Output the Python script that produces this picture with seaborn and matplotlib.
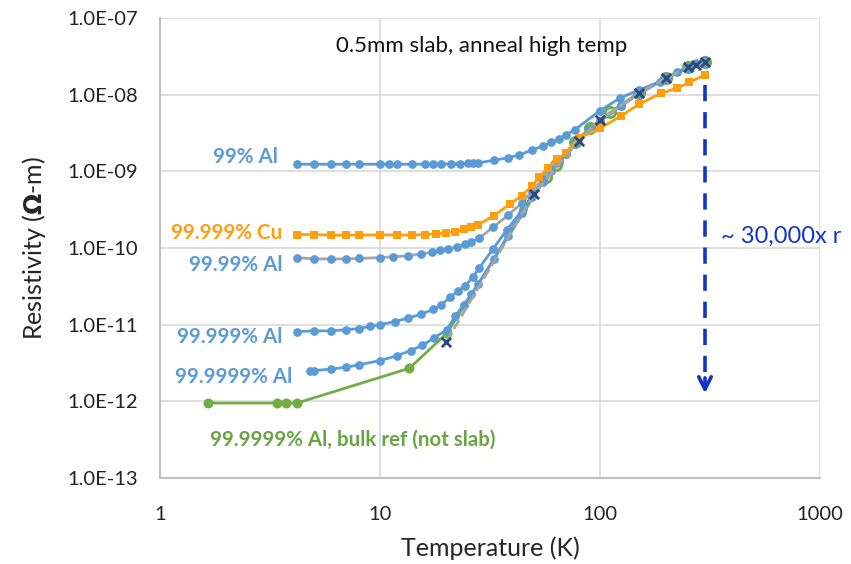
import matplotlib
matplotlib.use("Agg")
import matplotlib.pyplot as plt
import matplotlib.ticker as mticker
import seaborn as sns

# 99% Al
al99_T = [4.2, 5, 6, 7, 8, 10, 11, 12, 14, 16, 17.5, 19, 21, 23, 25, 26.5, 28, 33, 38, 43,
          49, 55, 60, 65, 70, 77, 100, 123, 150, 187, 225, 250, 274, 300]
al99_r = [1.24e-9, 1.24e-9, 1.24e-9, 1.24e-9, 1.24e-9, 1.24e-9, 1.24e-9, 1.24e-9, 1.24e-9, 1.24e-9,
          1.25e-9, 1.25e-9, 1.25e-9, 1.26e-9, 1.27e-9, 1.28e-9, 1.29e-9, 1.40e-9, 1.50e-9, 1.64e-9,
          1.90e-9, 2.14e-9, 2.40e-9, 2.66e-9, 3.0e-9, 3.5e-9, 6.2e-9, 9.0e-9, 1.15e-8, 1.48e-8,
          2.0e-8, 2.3e-8, 2.57e-8, 2.8e-8]

# 99.999% Cu
cu_T = [4.2, 5, 6, 7, 8, 10, 12, 14, 16, 18, 20, 22, 24, 26, 28, 33, 39, 44, 49, 53, 58, 64, 70,
        80, 100, 125, 150, 190, 225, 255, 300]
cu_r = [1.50e-10, 1.50e-10, 1.47e-10, 1.47e-10, 1.48e-10, 1.48e-10, 1.48e-10, 1.48e-10, 1.50e-10,
        1.53e-10, 1.58e-10, 1.63e-10, 1.75e-10, 1.88e-10, 2.02e-10, 2.65e-10, 3.75e-10, 4.8e-10,
        6.4e-10, 8.5e-10, 1.1e-9, 1.44e-9, 1.72e-9, 2.7e-9, 3.65e-9, 5.3e-9, 7.5e-9, 1.05e-8,
        1.22e-8, 1.45e-8, 1.82e-8]

# 99.99% Al
al9999_T = [4.2, 5, 6, 7, 8, 10, 11.5, 13.4, 15.4, 17.2, 18.7, 20.4, 22.3, 24.4, 26, 28.2, 32.7,
            38.3, 44, 49, 55, 60, 65, 70, 77, 90, 100, 125, 150, 200, 250, 300]
al9999_r = [7.5e-11, 7.2e-11, 7.2e-11, 7.2e-11, 7.3e-11, 7.5e-11, 7.7e-11, 7.9e-11, 8.4e-11, 8.8e-11,
            9.3e-11, 9.7e-11, 1.04e-10, 1.12e-10, 1.21e-10, 1.34e-10, 1.87e-10, 2.7e-10, 3.84e-10,
            5.5e-10, 8.0e-10, 1.08e-9, 1.4e-9, 1.75e-9, 2.4e-9, 3.6e-9, 4.6e-9, 7.3e-9, 1.05e-8,
            1.65e-8, 2.25e-8, 2.7e-8]

# 99.999% Al
al99999_T = [4.2, 5, 6, 7, 8, 9, 10, 11.7, 13.4, 15.4, 17.5, 19, 20.8, 22.7, 24.4, 26.5, 28.2, 32.7,
             37.6, 44.6, 49, 55, 60, 65, 70, 77, 90, 100, 125, 150, 200, 250, 300]
al99999_r = [8.1e-12, 8.3e-12, 8.3e-12, 8.6e-12, 8.9e-12, 9.5e-12, 1.0e-11, 1.1e-11, 1.22e-11,
             1.37e-11, 1.59e-11, 1.81e-11, 2.28e-11, 2.76e-11, 3.2e-11, 4.24e-11, 5.45e-11, 9.8e-11,
             1.7e-10, 3.2e-10, 4.8e-10, 7.5e-10, 1.03e-9, 1.35e-9, 1.7e-9, 2.35e-9, 3.55e-9, 4.55e-9,
             7.2e-9, 1.04e-8, 1.64e-8, 2.23e-8, 2.68e-8]

# 99.9999% Al
al999999_T = [4.8, 5, 6, 7, 8, 10, 12, 13.8, 15.6, 17.6, 20.1, 22, 24, 26, 28, 33, 38, 44, 49,
              55, 60, 65, 70, 77, 90, 100, 125, 150, 200, 250, 300]
al999999_r = [2.52e-12, 2.52e-12, 2.63e-12, 2.79e-12, 2.99e-12, 3.4e-12, 3.95e-12, 4.6e-12, 5.4e-12,
              6.7e-12, 8.6e-12, 1.3e-11, 1.8e-11, 2.5e-11, 3.4e-11, 7.2e-11, 1.45e-10, 2.9e-10,
              4.6e-10, 7.3e-10, 1.01e-9, 1.33e-9, 1.68e-9, 2.33e-9, 3.52e-9, 4.5e-9, 7.15e-9,
              1.03e-8, 1.63e-8, 2.22e-8, 2.67e-8]

# 99.9999% Al bulk reference (not slab)
bulk_T = [1.66, 3.4, 3.75, 4.2, 13.6, 20.1, 57, 63, 77, 90, 111, 150, 200, 250, 300]
bulk_r = [9.5e-13, 9.5e-13, 9.5e-13, 9.5e-13, 2.7e-12, 7.7e-12, 8.5e-10, 1.2e-9, 2.44e-9, 3.7e-9,
          5.9e-9, 1.05e-8, 1.65e-8, 2.27e-8, 2.7e-8]

# intrinsic Al reference (gray dashed, x markers)
ref_T = [20, 50, 80, 100, 150, 200, 250, 273, 300]
ref_r = [6.0e-12, 5.0e-10, 2.5e-9, 4.7e-9, 1.05e-8, 1.64e-8, 2.27e-8, 2.45e-8, 2.7e-8]

y_ticks = [1e-13, 1e-12, 1e-11, 1e-10, 1e-9, 1e-8, 1e-7]
x_ticks = [1, 10, 100, 1000]

BLUE = '#5B9BD5'
ORANGE = '#FF9E0F'
GREEN = '#70AD47'
GRAY = '#A5A5A5'
NAVY = '#2E4A7A'
ARROW = '#0F35C8'

sns.set_style("white")
plt.rcParams['font.family'] = ['Lato', 'DejaVu Sans']

fig = plt.figure(figsize=(8.51, 5.64), dpi=100)
ax = fig.add_axes([0.188, 0.1525, 0.7756, 0.8155])
ax.set(xscale='log', yscale='log')

kw = dict(linewidth=2.0, markersize=6.3, markeredgewidth=0, sort=False, estimator=None)
sns.lineplot(x=bulk_T[:6], y=bulk_r[:6], color=GREEN, marker='o', ax=ax, zorder=3,
             linewidth=2.0, markersize=7.2, markeredgewidth=0, sort=False, estimator=None)
sns.lineplot(x=bulk_T[5:], y=bulk_r[5:], color=GREEN, ax=ax, zorder=3, linewidth=2.0, sort=False, estimator=None)
ax.scatter(bulk_T[6:], bulk_r[6:], s=55, facecolors='#C9E3B5', edgecolors=GREEN, linewidths=2.0, zorder=3)
sns.lineplot(x=al999999_T, y=al999999_r, color=BLUE, marker='o', ax=ax, zorder=4, **kw)
sns.lineplot(x=al99999_T, y=al99999_r, color=BLUE, marker='o', ax=ax, zorder=4, **kw)
sns.lineplot(x=al9999_T, y=al9999_r, color=GRAY, marker='o', markerfacecolor=BLUE, ax=ax, zorder=4, **kw)
sns.lineplot(x=cu_T, y=cu_r, color=ORANGE, marker='s', ax=ax, zorder=5, **kw)
sns.lineplot(x=al99_T, y=al99_r, color=BLUE, marker='o', ax=ax, zorder=4, **kw)
sns.lineplot(x=ref_T, y=ref_r, color=GRAY, linestyle='--', ax=ax, zorder=6, linewidth=2.0, sort=False, estimator=None)
ax.scatter(ref_T, ref_r, marker='x', s=45, color=NAVY, linewidths=2.0, zorder=7)

ax.set_xlim(1, 1000)
ax.set_ylim(1e-13, 1e-7)
ax.set_xticks(x_ticks)
ax.set_yticks(y_ticks)
ax.xaxis.set_major_formatter(mticker.FuncFormatter(lambda v, p: f"{v:g}"))
ax.yaxis.set_major_formatter(mticker.FuncFormatter(lambda v, p: f"{v:.1E}"))
ax.tick_params(which='major', length=0, labelsize=14.5, colors='#222222')
ax.tick_params(axis='y', which='major', pad=16)
ax.tick_params(axis='x', which='major', pad=20)
ax.tick_params(which='minor', direction='in', length=5, width=1, color='#BFBFBF')
ax.grid(True, which='major', color='#D9D9D9', linewidth=1.2)
for s in ['top', 'right']:
    ax.spines[s].set_visible(False)
for s in ['left', 'bottom']:
    ax.spines[s].set_color('#BFBFBF')
    ax.spines[s].set_linewidth(1.5)

ax.set_xlabel('Temperature (K)', fontsize=18, labelpad=10)
ax.set_ylabel(r'Resistivity ($\mathbf{\Omega}$-m)', fontsize=18, labelpad=14)

lab = dict(fontsize=14.8, fontweight='bold', ha='right', va='center')
ax.text(3.45, 1.54e-9, '99% Al', color=BLUE, **lab)
ax.text(3.6, 1.57e-10, '99.999% Cu', color=ORANGE, **lab)
ax.text(3.6, 6.0e-11, '99.99% Al', color=BLUE, **lab)
ax.text(3.6, 6.9e-12, '99.999% Al', color=BLUE, **lab)
ax.text(4.0, 2.09e-12, '99.9999% Al', color=BLUE, **lab)
ax.text(1.68, 3.15e-13, '99.9999% Al, bulk ref (not slab)', color='#6AA443',
        fontsize=14.8, fontweight='bold', ha='left', va='center')
ax.text(0.488, 0.94, '0.5mm slab, anneal high temp', transform=ax.transAxes,
        fontsize=16, ha='center', va='center', color='#111111')

ax.plot([300, 300], [1.35e-8, 1.6e-12], color=ARROW, linewidth=2.6, dashes=(4.5, 3), zorder=8)
ax.annotate('', xy=(300, 1.17e-12), xytext=(300, 2.2e-12),
            arrowprops=dict(arrowstyle='->,head_length=0.9,head_width=0.45', color=ARROW, lw=2.6),
            zorder=8)
ax.text(355, 1.4e-10, '~ 30,000x r', color=ARROW, fontsize=17, ha='left', va='center',
        clip_on=False)

fig.savefig('out.png', dpi=100)
